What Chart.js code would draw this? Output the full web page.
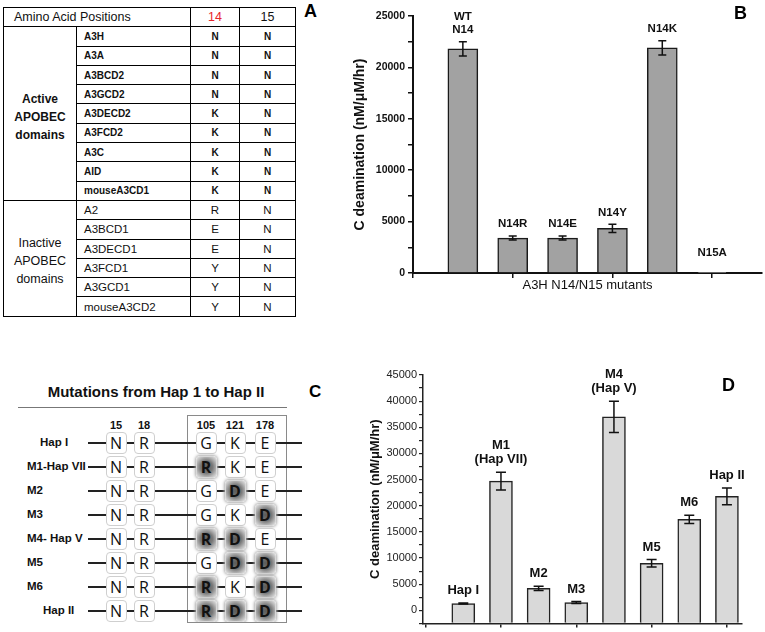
<!DOCTYPE html>
<html>
<head>
<meta charset="utf-8">
<script src="https://cdn.jsdelivr.net/npm/chart.js@4"></script>
<style>
  body { margin: 0; background: #fff; font-family: "Liberation Sans", Arial, sans-serif; }
  #page { position: relative; width: 765px; height: 632px; overflow: hidden; background: #fff; }
  .abs { position: absolute; }
  .panel-letter { position: absolute; font-weight: bold; font-size: 18px; color: #000; }
  #tableA { position: absolute; left: 3px; top: 7px; width: 292px; border-collapse: collapse; table-layout: fixed; border: 1.5px solid #000; }
  #tableA td { border: 1px solid #000; height: 18.3px; padding: 0; color: #111; }
  #tableA td.name { padding-left: 7px; }
  #tableA td.pos { text-align: center; }
  #tableA .active { font-weight: bold; font-size: 10px; }
  #tableA .inactive { font-size: 11.5px; }
  #tableA td.group { text-align: center; font-size: 12px; line-height: 18px; }
  .box { position: absolute; width: 19px; height: 20px; margin-left: -10.5px; margin-top: -11.5px;
         border: 1.5px solid #cfcfcf; border-radius: 4px; background: #fff;
         font-family: "Open Sans", sans-serif; font-size: 16px; line-height: 20px; text-align: center; color: #111; }
  .box.mut { background: radial-gradient(circle, #5a5a5a 0%, #7a7a7a 45%, #b9b9b9 75%, #e4e4e4 100%);
             border-color: #d8d8d8; font-weight: bold; box-shadow: 0 0 3px 1px #aaa; }
  .rowline { position: absolute; height: 1.5px; background: #222; }
  .rowname { position: absolute; font-weight: bold; font-size: 11.5px; color: #111; }
  .posnum { position: absolute; font-weight: bold; font-size: 11px; width: 30px; margin-left: -15px; text-align: center; color: #111; }
</style>
</head>
<body>
<div id="page">
  <table id="tableA"></table>
  <div class="panel-letter" style="left:304px; top:1px;">A</div>

  <div class="abs" style="left:340px; top:0px; width:425px; height:300px;">
    <canvas id="chartB" width="425" height="300"></canvas>
  </div>
  <div class="panel-letter" style="left:734px; top:3px;">B</div>

  <div class="abs" style="left:45px; top:383px; width:222px; text-align:center; font-weight:bold; font-size:15px; color:#111;">Mutations from Hap 1 to Hap II</div>
  <div class="abs" style="left:18px; top:407px; width:269px; height:1px; background:#777;"></div>
  <div class="panel-letter" style="left:309px; top:382px; font-size:17px;">C</div>
  <div class="abs" style="left:187px; top:415px; width:100px; height:208px; border:1px solid #8a8a8a; box-sizing:border-box;"></div>
  <div id="diagramC" class="abs" style="left:0; top:0; width:340px; height:622px; overflow:hidden;"></div>

  <div class="abs" style="left:360px; top:360px; width:405px; height:272px;">
    <canvas id="chartD" width="405" height="272"></canvas>
  </div>
  <div class="panel-letter" style="left:722px; top:375px;">D</div>
</div>

<script>
// ---- panel A: table data ----
const activeDomains = ['A3H', 'A3A', 'A3BCD2', 'A3GCD2', 'A3DECD2', 'A3FCD2', 'A3C', 'AID', 'mouseA3CD1'];
const activePos14 = ['N', 'N', 'N', 'N', 'K', 'K', 'K', 'K', 'K'];
const activePos15 = ['N', 'N', 'N', 'N', 'N', 'N', 'N', 'N', 'N'];
const inactiveDomains = ['A2', 'A3BCD1', 'A3DECD1', 'A3FCD1', 'A3GCD1', 'mouseA3CD2'];
const inactivePos14 = ['R', 'E', 'E', 'Y', 'Y', 'Y'];
const inactivePos15 = ['N', 'N', 'N', 'N', 'N', 'N'];

// ---- panel B: A3H N14/N15 mutants ----
const mutantLabels = ['WT\nN14', 'N14R', 'N14E', 'N14Y', 'N14K', 'N15A'];
const mutantSlots = [1, 2, 3, 4, 5, 6];
const mutantRates = [21800, 3400, 3400, 4350, 21900, 30];
const mutantErrors = [700, 200, 200, 400, 700, 0];
const mutantTickSlots = [0, 2, 4, 6];
const mutantYTicks = [0, 5000, 10000, 15000, 20000, 25000];

// ---- panel C: haplotype residues ----
const hapRowNames = ['Hap I', 'M1-Hap VII', 'M2', 'M3', 'M4- Hap V', 'M5', 'M6', 'Hap II'];
const residuePositions = ['15', '18', '105', '121', '178'];
const res15 = ['N', 'N', 'N', 'N', 'N', 'N', 'N', 'N'];
const res18 = ['R', 'R', 'R', 'R', 'R', 'R', 'R', 'R'];
const res105 = ['G', 'R', 'G', 'G', 'R', 'G', 'R', 'R'];
const res121 = ['K', 'K', 'D', 'K', 'D', 'D', 'K', 'D'];
const res178 = ['E', 'E', 'E', 'D', 'E', 'D', 'D', 'D'];

// ---- panel D: haplotype mutants ----
const hapLabels = ['Hap I', 'M1\n(Hap VII)', 'M2', 'M3', 'M4\n(Hap V)', 'M5', 'M6', 'Hap II'];
const hapSlots = [0, 1, 2, 3, 4, 5, 6, 7];
const hapRates = [1300, 24700, 4200, 1500, 37000, 9000, 17400, 21800];
const hapErrors = [100, 1700, 400, 200, 3000, 700, 800, 1600];
const hapTickSlots = [-1, 1, 3, 5, 7];
const hapYTicks = [0, 5000, 10000, 15000, 20000, 25000, 30000, 35000, 40000, 45000];

// build table A
function buildTable() {
    const table = document.getElementById('tableA');
    let html = '<colgroup><col style="width:73px"><col style="width:114px"><col style="width:49px"><col style="width:56px"></colgroup>';
    html += '<tr><td colspan="2" style="font-size:12.5px; padding-left:10px;">Amino Acid Positions</td>' +
            '<td class="pos" style="font-size:12.5px; color:#e8262b;">14</td><td class="pos" style="font-size:12.5px;">15</td></tr>';
    activeDomains.forEach((name, i) => {
        html += '<tr>';
        if (i === 0) html += `<td class="group" rowspan="${activeDomains.length}" style="font-weight:bold; padding-top:6px;">Active<br>APOBEC<br>domains</td>`;
        html += `<td class="name active">${name}</td><td class="pos active">${activePos14[i]}</td><td class="pos active">${activePos15[i]}</td></tr>`;
    });
    inactiveDomains.forEach((name, i) => {
        html += '<tr>';
        if (i === 0) html += `<td class="group" rowspan="${inactiveDomains.length}" style="font-size:12.5px; padding-top:6px;">Inactive<br>APOBEC<br>domains</td>`;
        html += `<td class="name inactive">${name}</td><td class="pos inactive">${inactivePos14[i]}</td><td class="pos inactive">${inactivePos15[i]}</td></tr>`;
    });
    table.innerHTML = html;
}

// build diagram C
function buildDiagram() {
    const el = document.getElementById('diagramC');
    const colX = [116, 144, 206, 235, 265];
    const nameX = [40, 27, 27, 27, 27, 27, 27, 43];
    const rowY = hapRowNames.map((_, i) => 443 + i * 24);
    const columns = [res15, res18, res105, res121, res178];
    let html = '';
    residuePositions.forEach((p, c) => {
        html += `<div class="posnum" style="left:${colX[c]}px; top:419px;">${p}</div>`;
    });
    hapRowNames.forEach((name, r) => {
        const y = rowY[r];
        html += `<div class="rowname" style="left:${nameX[r]}px; top:${y - 7}px;">${name}</div>`;
        html += `<div class="rowline" style="left:88px; width:214px; top:${y - 0.75}px;"></div>`;
        columns.forEach((col, c) => {
            const mutated = col[r] !== col[0];
            html += `<div class="box${mutated ? ' mut' : ''}" style="left:${colX[c]}px; top:${y}px;">${col[r]}</div>`;
        });
    });
    el.innerHTML = html;
}

buildTable();
buildDiagram();

// error bars + labels above bars
const barAnnotations = {
    id: 'barAnnotations',
    afterDatasetsDraw(chart, args, opts) {
        const ctx = chart.ctx;
        const xs = chart.scales.x, ys = chart.scales.y;
        ctx.save();
        ctx.strokeStyle = '#111';
        ctx.fillStyle = '#111';
        ctx.lineWidth = 1.5;
        opts.values.forEach((v, i) => {
            const px = xs.getPixelForValue(opts.slots[i]);
            const err = opts.errors[i];
            const top = ys.getPixelForValue(v + err);
            if (err > 0) {
                const bot = ys.getPixelForValue(v - err);
                ctx.beginPath();
                ctx.moveTo(px, top); ctx.lineTo(px, bot);
                ctx.moveTo(px - opts.cap, top); ctx.lineTo(px + opts.cap, top);
                ctx.moveTo(px - opts.cap, bot); ctx.lineTo(px + opts.cap, bot);
                ctx.stroke();
            }
            ctx.font = opts.font;
            ctx.textAlign = 'center';
            ctx.textBaseline = 'bottom';
            const lines = opts.labels[i].split('\n');
            let yy = top - opts.gap - (err > 0 ? 0 : 8);
            for (let k = lines.length - 1; k >= 0; k--) {
                ctx.fillText(lines[k], px, yy);
                yy -= opts.lineHeight;
            }
        });
        ctx.restore();
    }
};

Chart.defaults.font.family = '"Liberation Sans", Arial, sans-serif';
Chart.defaults.color = '#111';

function withMinors(major) {
    const step = (major[1] - major[0]) / 2;
    const out = [];
    major.forEach(v => { out.push(v); out.push(v + step); });
    return out;
}

// panel B
new Chart(document.getElementById('chartB'), {
    type: 'bar',
    data: {
        datasets: [{
            data: mutantSlots.map((s, i) => ({ x: s, y: mutantRates[i] })),
            backgroundColor: '#a2a2a2',
            borderColor: '#1a1a1a',
            borderWidth: 1.5,
            barThickness: 30
        }]
    },
    plugins: [barAnnotations],
    options: {
        responsive: false,
        devicePixelRatio: 1,
        animation: false,
        layout: { padding: { top: 16, right: 3, left: 0, bottom: 0 } },
        plugins: {
            legend: { display: false },
            tooltip: { enabled: false },
            barAnnotations: {
                values: mutantRates, errors: mutantErrors, slots: mutantSlots, labels: mutantLabels,
                font: 'bold 11.5px "Liberation Sans", Arial, sans-serif', lineHeight: 13, gap: 6, cap: 4
            }
        },
        scales: {
            x: {
                type: 'linear', min: 0, max: 7, offset: false,
                afterBuildTicks: s => { s.ticks = mutantTickSlots.map(v => ({ value: v })); },
                afterFit: s => { s.height = 27; },
                ticks: { display: false },
                grid: { display: true, offset: false, drawOnChartArea: false, drawTicks: true, tickLength: 5, color: '#111', lineWidth: 1.5 },
                border: { display: true, color: '#111', width: 2 },
                title: { display: true, text: 'A3H N14/N15 mutants', font: { size: 13 }, color: '#111', padding: { top: 0, bottom: 7 } }
            },
            y: {
                min: 0, max: 25000,
                afterBuildTicks: s => { s.ticks = withMinors(mutantYTicks).filter(v => v <= 25000).map(v => ({ value: v })); },
                afterFit: s => { s.width = 73; },
                ticks: {
                    autoSkip: false,
                    font: { size: 10.5, weight: 'bold' }, color: '#111', padding: 3,
                    callback: v => mutantYTicks.includes(v) ? String(v) : ''
                },
                grid: { display: true, drawOnChartArea: false, drawTicks: true, tickLength: 5, color: '#111', lineWidth: 1.5 },
                border: { display: true, color: '#111', width: 2 },
                title: { display: true, text: 'C deamination (nM/\u03bcM/hr)', font: { size: 14, weight: 'bold' }, color: '#111', padding: { top: 12, bottom: 0 } }
            }
        }
    }
});

// panel D
new Chart(document.getElementById('chartD'), {
    type: 'bar',
    data: {
        datasets: [{
            data: hapSlots.map((s, i) => ({ x: s, y: hapRates[i] })),
            backgroundColor: '#d9d9d9',
            borderColor: '#222',
            borderWidth: 1.5,
            barThickness: 23,
            base: -2500
        }]
    },
    plugins: [barAnnotations],
    options: {
        responsive: false,
        devicePixelRatio: 1,
        animation: false,
        layout: { padding: { top: 15, right: 23, left: 0, bottom: 0 } },
        plugins: {
            legend: { display: false },
            tooltip: { enabled: false },
            barAnnotations: {
                values: hapRates, errors: hapErrors, slots: hapSlots, labels: hapLabels,
                font: 'bold 13px "Liberation Sans", Arial, sans-serif', lineHeight: 14, gap: 6, cap: 5
            }
        },
        scales: {
            x: {
                type: 'linear', min: -1.07, max: 7.4, offset: false,
                afterBuildTicks: s => { s.ticks = hapTickSlots.map(v => ({ value: v })); },
                afterFit: s => { s.height = 6.5; },
                ticks: { display: false },
                grid: { display: true, offset: false, drawOnChartArea: false, drawTicks: true, tickLength: 4, color: '#222', lineWidth: 1.5 },
                border: { display: true, color: '#222', width: 1.5 }
            },
            y: {
                min: -2500, max: 45000,
                afterBuildTicks: s => { s.ticks = [-2500].concat(withMinors(hapYTicks)).filter(v => v <= 45000).map(v => ({ value: v })); },
                afterFit: s => { s.width = 63; },
                ticks: {
                    autoSkip: false,
                    font: { size: 11 }, color: '#222', padding: 2,
                    callback: v => hapYTicks.includes(v) ? String(v) : ''
                },
                grid: { display: true, drawOnChartArea: false, drawTicks: true, tickLength: 4, color: '#222', lineWidth: 1.2 },
                border: { display: true, color: '#222', width: 1.5 },
                title: { display: true, text: 'C deamination (nM/\u03bcM/hr)', font: { size: 13, weight: 'bold' }, color: '#111', padding: { top: 8, bottom: 0 } }
            }
        }
    }
});
</script>
</body>
</html>
